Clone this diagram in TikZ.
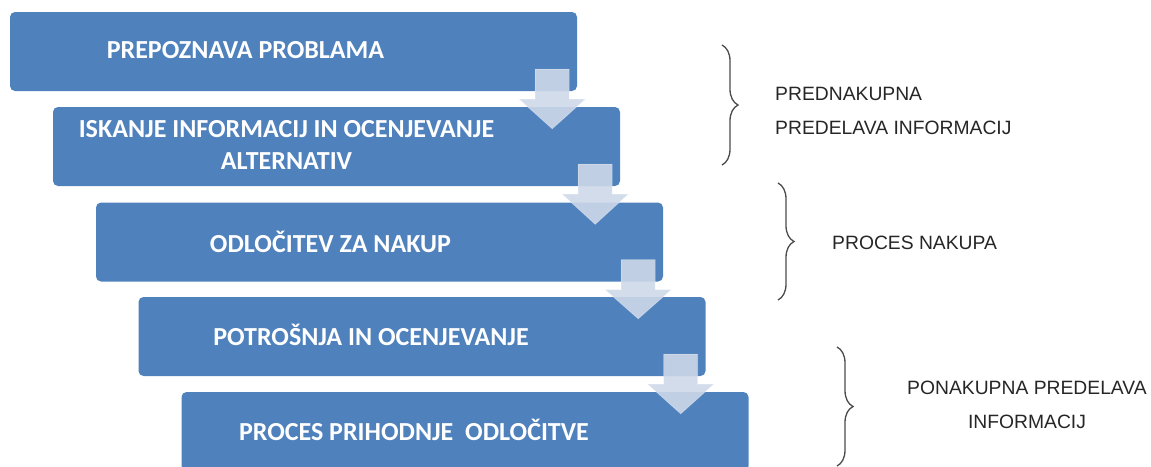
\documentclass[tikz,border=0pt]{standalone}
\usepackage{fontspec}
\setmainfont{Liberation Sans}
\newfontfamily\boxfont{Carlito}
\usetikzlibrary{calc}
\usetikzlibrary{decorations.pathreplacing}

\definecolor{stepblue}{RGB}{79,129,189}
\definecolor{arrowgray}{RGB}{205,216,232}
\definecolor{bracegray}{RGB}{75,75,75}

\tikzset{
    stepbox/.style={rectangle, rounded corners=5pt, fill=stepblue, minimum width=567pt, minimum height=79pt, inner sep=0pt},
    boxtext/.style={text=white, font=\boxfont\bfseries\fontsize{26}{32}\selectfont, align=center, inner sep=0pt},
    sidetext/.style={text=black!85, font=\fontsize{19.3}{34}\selectfont, inner sep=0pt},
    bracket/.style={decorate, decoration={brace, amplitude=16pt}, draw=bracegray, line width=1.3pt},
    flowarrow/.style={fill=arrowgray, fill opacity=0.9, draw=white, draw opacity=0.3, line width=0.8pt}
}

\begin{document}
\begin{tikzpicture}[x=1pt, y=-1pt]
        \useasboundingbox (0,0) rectangle (1151,466);

        % Boxes
        \node[stepbox] (b1) at (293.5, 51.5) {};
        \node[stepbox] (b2) at (336.5,146.5) {};
        \node[stepbox] (b3) at (379.5,242) {};
        \node[stepbox] (b4) at (422,336.5) {};
        \node[stepbox] (b5) at (465,431.5) {};

        % Box texts
        \node[boxtext] (t1) at ([xshift=-48pt,yshift=1pt]b1.center) {PREPOZNAVA PROBLAMA};
        \node[boxtext] (t2) at ([xshift=-50pt,yshift=2pt]b2.center) {ISKANJE INFORMACIJ IN OCENJEVANJE\\ALTERNATIV};
        \node[boxtext] (t3) at ([xshift=-49pt]b3.center) {ODLOČITEV ZA NAKUP};
        \node[boxtext] (t4) at ([xshift=-51pt,yshift=2pt]b4.center) {POTROŠNJA IN OCENJEVANJE};
        \node[boxtext] (t5) at ([xshift=-51pt,yshift=2pt]b5.center) {PROCES PRIHODNJE \ ODLOČITVE};

        % Arrows
        \foreach \src/\dst in {b1/b2, b2/b3, b3/b4, b4/b5} {
            \path[flowarrow] ($(\src.south east)+(-42,-22)$) -- ($(\src.south east)+(-8,-22)$)
                -- ($(\src.south east)+(-8,8)$) -- ($(\src.south east)+(8,8)$)
                -- ($(\src.south east |- \dst.north)+(-25,22)$)
                -- ($(\src.south east)+(-58,8)$) -- ($(\src.south east)+(-42,8)$) -- cycle;
        }

        % Side labels
        \node[sidetext, anchor=west, align=left] (l1) at (775,111) {PREDNAKUPNA\\PREDELAVA INFORMACIJ};
        \node[sidetext, anchor=west] (l2) at (832,243) {PROCES NAKUPA};
        \node[sidetext, align=center] (l3) at (1027,404.5) {PONAKUPNA PREDELAVA\\INFORMACIJ};

        % Braces
        \draw[bracket] (722,45) -- (722,165);
        \draw[bracket] (778,183) -- (778,300);
        \draw[bracket] (837,347) -- (837,466);

    \end{tikzpicture}
\end{document}
